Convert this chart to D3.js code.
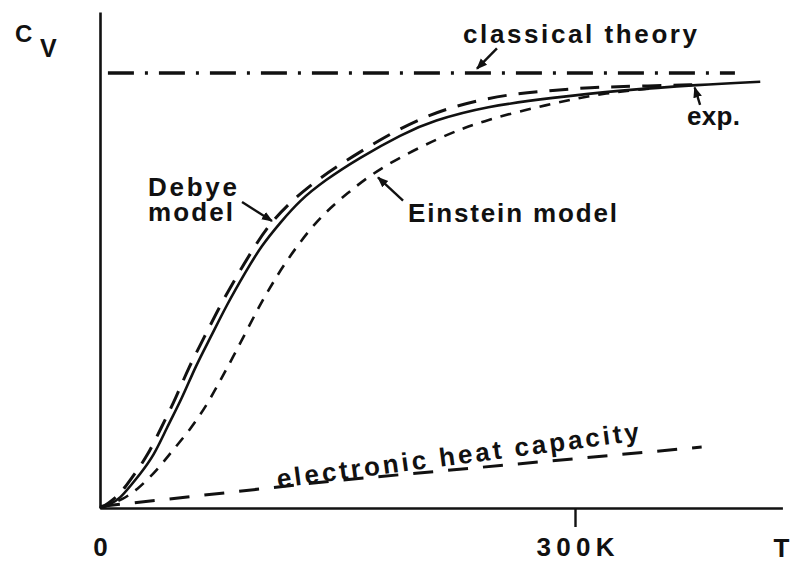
<!DOCTYPE html>
<html>
<head>
<meta charset="utf-8">
<script src="https://cdn.jsdelivr.net/npm/d3@7"></script>
<style>
  html, body { margin: 0; padding: 0; background: #fff; }
  text { font-family: "Liberation Sans", Arial, Helvetica, sans-serif; font-weight: bold; fill: #111; }
</style>
</head>
<body>
<svg id="chart" width="791" height="562"></svg>
<script>
// Temperature (K) and heat capacity (in units of R) for each curve
const tExp  = [0, 6, 13, 19, 25, 34, 42, 52, 60, 70, 80, 92, 102, 114, 126, 142, 163, 191, 210, 244, 286, 328, 379, 417];
const cvExp = [0, 0.02, 0.07, 0.15, 0.23, 0.36, 0.55, 0.76, 0.97, 1.18, 1.40, 1.63, 1.81, 1.97, 2.12, 2.26, 2.41, 2.58, 2.67, 2.77, 2.83, 2.88, 2.92, 2.94];

const tDebye  = [0, 5, 11, 16, 21.5, 30, 38.5, 48, 56, 66, 76, 88, 98, 109, 131, 160, 188, 206, 221, 242, 264, 286, 308, 341, 379];
const cvDebye = [0, 0.03, 0.08, 0.145, 0.23, 0.36, 0.55, 0.76, 0.97, 1.18, 1.40, 1.63, 1.81, 1.99, 2.22, 2.43, 2.61, 2.70, 2.76, 2.82, 2.86, 2.88, 2.90, 2.91, 2.92];

const tEinstein  = [0, 6, 14, 23, 36, 46, 57, 68, 76, 84, 93, 101, 109, 118, 137, 156, 177, 215, 244, 282, 316, 354];
const cvEinstein = [0, 0.02, 0.06, 0.12, 0.26, 0.40, 0.54, 0.72, 0.88, 1.04, 1.23, 1.40, 1.55, 1.71, 1.99, 2.17, 2.35, 2.56, 2.68, 2.78, 2.86, 2.90];

const tElectronic  = [0, 150, 380];
const cvElectronic = [0.01, 0.19, 0.42];

const tClassical  = [5, 401];
const cvClassical = [3, 3];

const xTickValues = [0, 300];
const xTickLabels = ["0", "300K"];
const tAxisMax = 431;
const cvAxisMax = 3.42;

const svg = d3.select("#chart");
const x = d3.scaleLinear().domain([0, 300]).range([100, 575]);
const y = d3.scaleLinear().domain([0, 3]).range([508, 73]);

const line = d3.line().x(d => x(d[0])).y(d => y(d[1])).curve(d3.curveBasis);
const straight = d3.line().x(d => x(d[0])).y(d => y(d[1]));

// arrowhead
svg.append("defs").append("marker")
  .attr("id", "head")
  .attr("viewBox", "0 -5 10 10")
  .attr("refX", 9).attr("refY", 0)
  .attr("markerUnits", "userSpaceOnUse")
  .attr("markerWidth", 11).attr("markerHeight", 11)
  .attr("orient", "auto")
  .append("path").attr("d", "M0,-4L10,0L0,4Z").attr("fill", "#111");

const curves = [
  { t: tClassical, cv: cvClassical, dash: "26,11,3,11", w: 3.5, gen: straight },
  { t: tElectronic, cv: cvElectronic, dash: "20,15", w: 3, gen: straight },
  { t: tEinstein, cv: cvEinstein, dash: "11,9", w: 2.6, gen: line },
  { t: tDebye, cv: cvDebye, dash: "19,12", w: 3, gen: line },
  { t: tExp, cv: cvExp, dash: null, w: 2.6, gen: line }
];

svg.append("g").selectAll("path")
  .data(curves)
  .join("path")
  .attr("d", c => c.gen(d3.zip(c.t, c.cv)))
  .attr("fill", "none")
  .attr("stroke", "#111")
  .attr("stroke-width", c => c.w)
  .attr("stroke-dasharray", c => c.dash)
  .attr("stroke-linecap", "butt");

// axes
const xAxisScale = x.copy().domain([0, tAxisMax]).range([x(0), x(tAxisMax)]);
const yAxisScale = y.copy().domain([0, cvAxisMax]).range([y(0), y(cvAxisMax)]);

const gx = svg.append("g")
  .attr("transform", `translate(0,${y(0)})`)
  .call(d3.axisBottom(xAxisScale)
    .tickValues(xTickValues)
    .tickFormat((d, i) => xTickLabels[i])
    .tickSize(19)
    .tickSizeOuter(0));
gx.select(".domain").attr("stroke", "#111").attr("stroke-width", 2.6);
gx.selectAll(".tick line").attr("stroke", "#111").attr("stroke-width", 2.4)
  .attr("display", d => d === 0 ? "none" : null);
gx.selectAll(".tick text")
  .attr("y", 48).attr("dy", 0)
  .attr("font-size", 26)
  .attr("font-family", null)
  .attr("fill", "#111")
  .attr("textLength", d => d === 0 ? null : 78)
  .attr("lengthAdjust", "spacing");

const gy = svg.append("g")
  .attr("transform", `translate(${x(0)},0)`)
  .call(d3.axisLeft(yAxisScale).tickValues([]).tickSizeOuter(0));
gy.select(".domain").attr("stroke", "#111").attr("stroke-width", 2.6);

// axis titles
svg.append("text").attr("x", x(tAxisMax) - 9).attr("y", 557).attr("font-size", 26).text("T");
const cvTitle = svg.append("text").attr("x", 15).attr("y", 42).attr("font-size", 24);
cvTitle.append("tspan").text("C");
cvTitle.append("tspan").attr("x", 40).attr("y", 57).attr("font-size", 25).text("V");

// curve labels
const labels = [
  { text: "classical theory", t: 229.3, cv: 3.207, len: 234, rot: 0 },
  { text: "exp.", t: 370.7, cv: 2.641, len: 53, rot: 0 },
  { text: "Debye", t: 30.3, cv: 2.152, len: 89, rot: 0 },
  { text: "model", t: 30.3, cv: 1.979, len: 85, rot: 0 },
  { text: "Einstein model", t: 194.5, cv: 1.972, len: 209, rot: 0 },
  { text: "electronic heat capacity", t: 112.4, cv: 0.138, len: 365, rot: -7.5 }
];

svg.append("g").selectAll("text")
  .data(labels)
  .join("text")
  .attr("transform", d => `translate(${x(d.t)},${y(d.cv)}) rotate(${d.rot})`)
  .attr("font-size", 26)
  .attr("textLength", d => d.len)
  .attr("lengthAdjust", "spacing")
  .text(d => d.text);

// pointer arrows from labels to curves
const arrows = [
  { from: [250.7, 3.17], to: [238.1, 3.03] },
  { from: [379.0, 2.78], to: [375.6, 2.90] },
  { from: [89.7, 2.11], to: [108.6, 1.98] },
  { from: [191.4, 2.12], to: [175.6, 2.28] }
];

svg.append("g").selectAll("line")
  .data(arrows)
  .join("line")
  .attr("x1", d => x(d.from[0])).attr("y1", d => y(d.from[1]))
  .attr("x2", d => x(d.to[0])).attr("y2", d => y(d.to[1]))
  .attr("stroke", "#111")
  .attr("stroke-width", 2.4)
  .attr("marker-end", "url(#head)");
</script>
</body>
</html>
